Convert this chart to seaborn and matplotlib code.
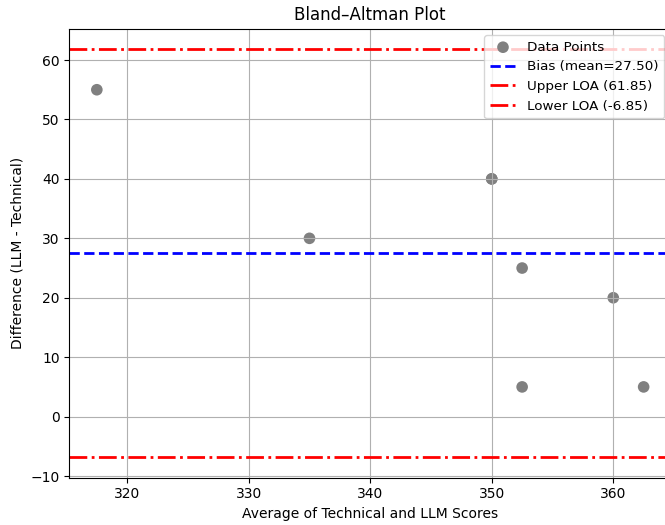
import matplotlib
matplotlib.use("Agg")
import matplotlib.pyplot as plt
import seaborn as sns
import numpy as np
import pandas as pd

averages = [317.5, 335.0, 350.0, 350.0, 352.5, 352.5, 360.0, 362.5]
differences = [55, 30, 40, 40, 25, 5, 20, 5]
bias = 27.50
upper_loa = 61.85
lower_loa = -6.85

df = pd.DataFrame({"avg": averages, "diff": differences})

fig = plt.figure(figsize=(6.65, 5.25), dpi=100)
ax = fig.add_axes([0.1045, 0.090, 0.9045, 0.8555])

sns.scatterplot(data=df, x="avg", y="diff", color="gray", s=70,
                edgecolor="none", label="Data Points", ax=ax)
ax.axhline(bias, color="blue", linestyle="--", linewidth=2,
           label=f"Bias (mean={bias:.2f})")
ax.axhline(upper_loa, color="red", linestyle="-.", linewidth=2,
           label=f"Upper LOA ({upper_loa:.2f})")
ax.axhline(lower_loa, color="red", linestyle="-.", linewidth=2,
           label=f"Lower LOA ({lower_loa:.2f})")

ax.set_title("Bland–Altman Plot")
ax.set_xlabel("Average of Technical and LLM Scores")
ax.set_ylabel("Difference (LLM - Technical)")
ax.grid(True)
ax.legend(loc="upper right", fontsize=9.7)

fig.savefig("out.png", dpi=100)
